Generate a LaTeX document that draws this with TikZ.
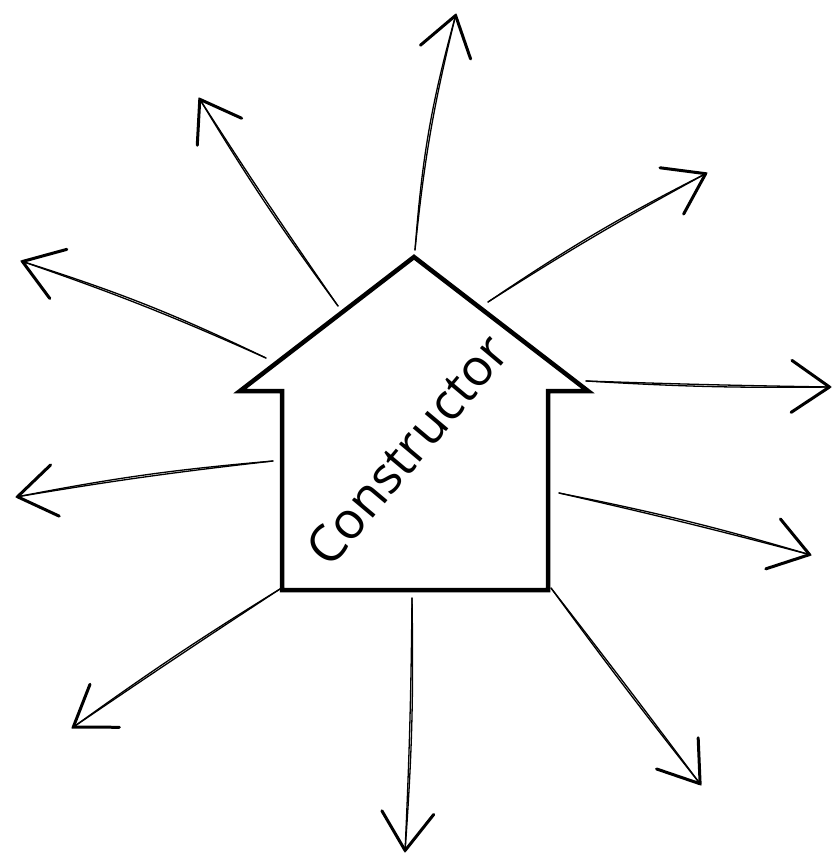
\documentclass[tikz,border=0pt]{standalone}
\usepackage{fontspec}
\setmainfont{Open Sans}
\usetikzlibrary{arrows.meta}

\tikzset{
  wall/.style={line width=4.5pt, line join=miter, line cap=round},
  ray/.style={line width=1.3pt, line cap=round},
  rayhead/.style={-{Straight Barb[length=38pt, width=52pt, line width=3pt, round]}},
}

\begin{document}
\begin{tikzpicture}[x=1pt, y=-1pt]
  \useasboundingbox (0,0) rectangle (833,855);

  % house outline
  \coordinate (peak) at (414,257);
  \coordinate (eaveL) at (240,391);
  \coordinate (innerL) at (282,391);
  \coordinate (baseL) at (282,590);
  \coordinate (baseR) at (548,590);
  \coordinate (innerR) at (548,391);
  \coordinate (eaveR) at (588,391);
  \draw[wall] (peak) -- (eaveL) -- (innerL) -- (baseL) -- (baseR) -- (innerR) -- (eaveR) -- cycle;

  \node[rotate=50, font=\fontsize{51}{54}\selectfont] (label) at (407,450) {Constructor};

  % where the rays leave the house
  \coordinate (s1) at (415,250);
  \coordinate (s2) at (338,306);
  \coordinate (s3) at (488,302);
  \coordinate (s4) at (266,358);
  \coordinate (s5) at (586,381);
  \coordinate (s6) at (273,461);
  \coordinate (s7) at (559,493);
  \coordinate (s8) at (280,589);
  \coordinate (s9) at (412,598);
  \coordinate (s10) at (551,588);

  % where they point to
  \coordinate (t1) at (456,14);
  \coordinate (t2) at (199,98);
  \coordinate (t3) at (707,173);
  \coordinate (t4) at (21,261);
  \coordinate (t5) at (831,387);
  \coordinate (t6) at (16,497);
  \coordinate (t7) at (811,555);
  \coordinate (t8) at (72,728);
  \coordinate (t9) at (405,852);
  \coordinate (t10) at (701,785);

  % rays, each stroked twice for the sketchy look
  \foreach \i/\b in {1/4, 2/1, 3/2, 4/-4, 5/-2, 6/-3, 7/1, 8/-2, 9/1, 10/-1} {
    \draw[ray] (s\i) to[bend left=\b] (t\i);
    \draw[ray, rayhead] (s\i) to[bend left=\b+1.5] (t\i);
  }
\end{tikzpicture}
\end{document}
